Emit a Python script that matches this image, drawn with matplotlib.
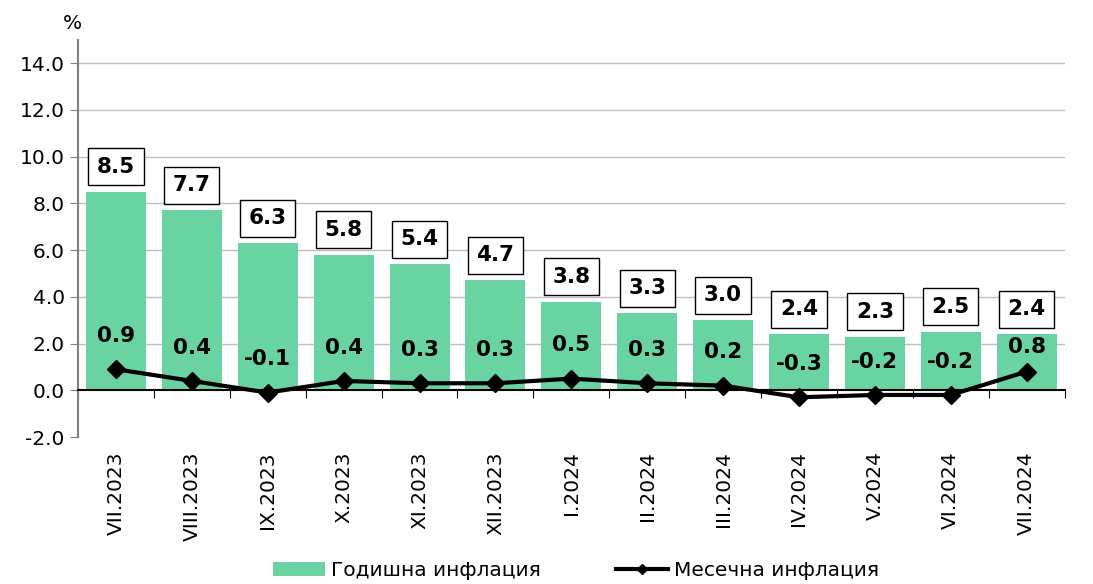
import matplotlib.pyplot as plt
import numpy as np

months = ['VII.2023', 'VIII.2023', 'IX.2023', 'X.2023', 'XI.2023', 'XII.2023',
          'I.2024', 'II.2024', 'III.2024', 'IV.2024', 'V.2024', 'VI.2024', 'VII.2024']
annual = [8.5, 7.7, 6.3, 5.8, 5.4, 4.7, 3.8, 3.3, 3.0, 2.4, 2.3, 2.5, 2.4]
monthly = [0.9, 0.4, -0.1, 0.4, 0.3, 0.3, 0.5, 0.3, 0.2, -0.3, -0.2, -0.2, 0.8]

green = '#6AD3A2'
fs = 14.5

fig = plt.figure(figsize=(10.93, 5.84), dpi=100)
ax = fig.add_axes([0.0714, 0.2517, 0.9026, 0.68])

x = np.arange(len(months))
bars = ax.bar(x, annual, width=0.79, color=green, zorder=2, label='Годишна инфлация')
line, = ax.plot(x, monthly, color='black', lw=3, marker='D', ms=9, zorder=3,
                label='Месечна инфлация')

for xi, v in zip(x, annual):
    ax.annotate(f'{v:.1f}', (xi, v), xytext=(0, 18), textcoords='offset points',
                ha='center', va='center', fontsize=15.5, fontweight='bold',
                bbox=dict(boxstyle='square,pad=0.4', fc='white', ec='black', lw=1))

for i, (xi, v) in enumerate(zip(x, monthly)):
    off = 18 if i == len(x) - 1 else 24
    ax.annotate(f'{v:.1f}', (xi, v), xytext=(0, off), textcoords='offset points',
                ha='center', va='center', fontsize=15.5, fontweight='bold')

ax.set_xlim(-0.5, len(months) - 0.5)
ax.set_ylim(-2, 15)
ax.set_yticks(np.arange(-2, 15, 2))
ax.set_yticklabels([f'{t:.1f}' for t in np.arange(-2, 15, 2)], fontsize=fs)
for t in range(2, 15, 2):
    ax.axhline(t, color='#BFBFBF', lw=1, zorder=1)

ax.spines['top'].set_visible(False)
ax.spines['right'].set_visible(False)
ax.spines['left'].set_color('#808080')
ax.spines['left'].set_linewidth(1.5)
ax.spines['bottom'].set_position(('data', 0))
ax.spines['bottom'].set_color('black')
ax.spines['bottom'].set_linewidth(1.5)
ax.spines['bottom'].set_zorder(2.5)
ax.tick_params(axis='y', length=6, color='#808080', direction='out')

ax.set_xticks(np.arange(len(months) + 1) - 0.5)
ax.set_xticklabels([])
ax.tick_params(axis='x', length=6, direction='out', color='black')
for xi, m in zip(x, months):
    ax.text(xi, -2.6, m, rotation=90, ha='center', va='top', fontsize=fs)

fig.text(0.066, 0.96, '%', fontsize=fs, ha='center', va='center')

fig.legend([bars, line], ['Годишна инфлация', 'Месечна инфлация'],
           loc='lower center', bbox_to_anchor=(0.527, -0.025), ncol=2, frameon=False,
           fontsize=fs, columnspacing=3.7, handlelength=2.6, handletextpad=0.3,
           markerscale=0.6)

fig.savefig('out.png', dpi=100)
